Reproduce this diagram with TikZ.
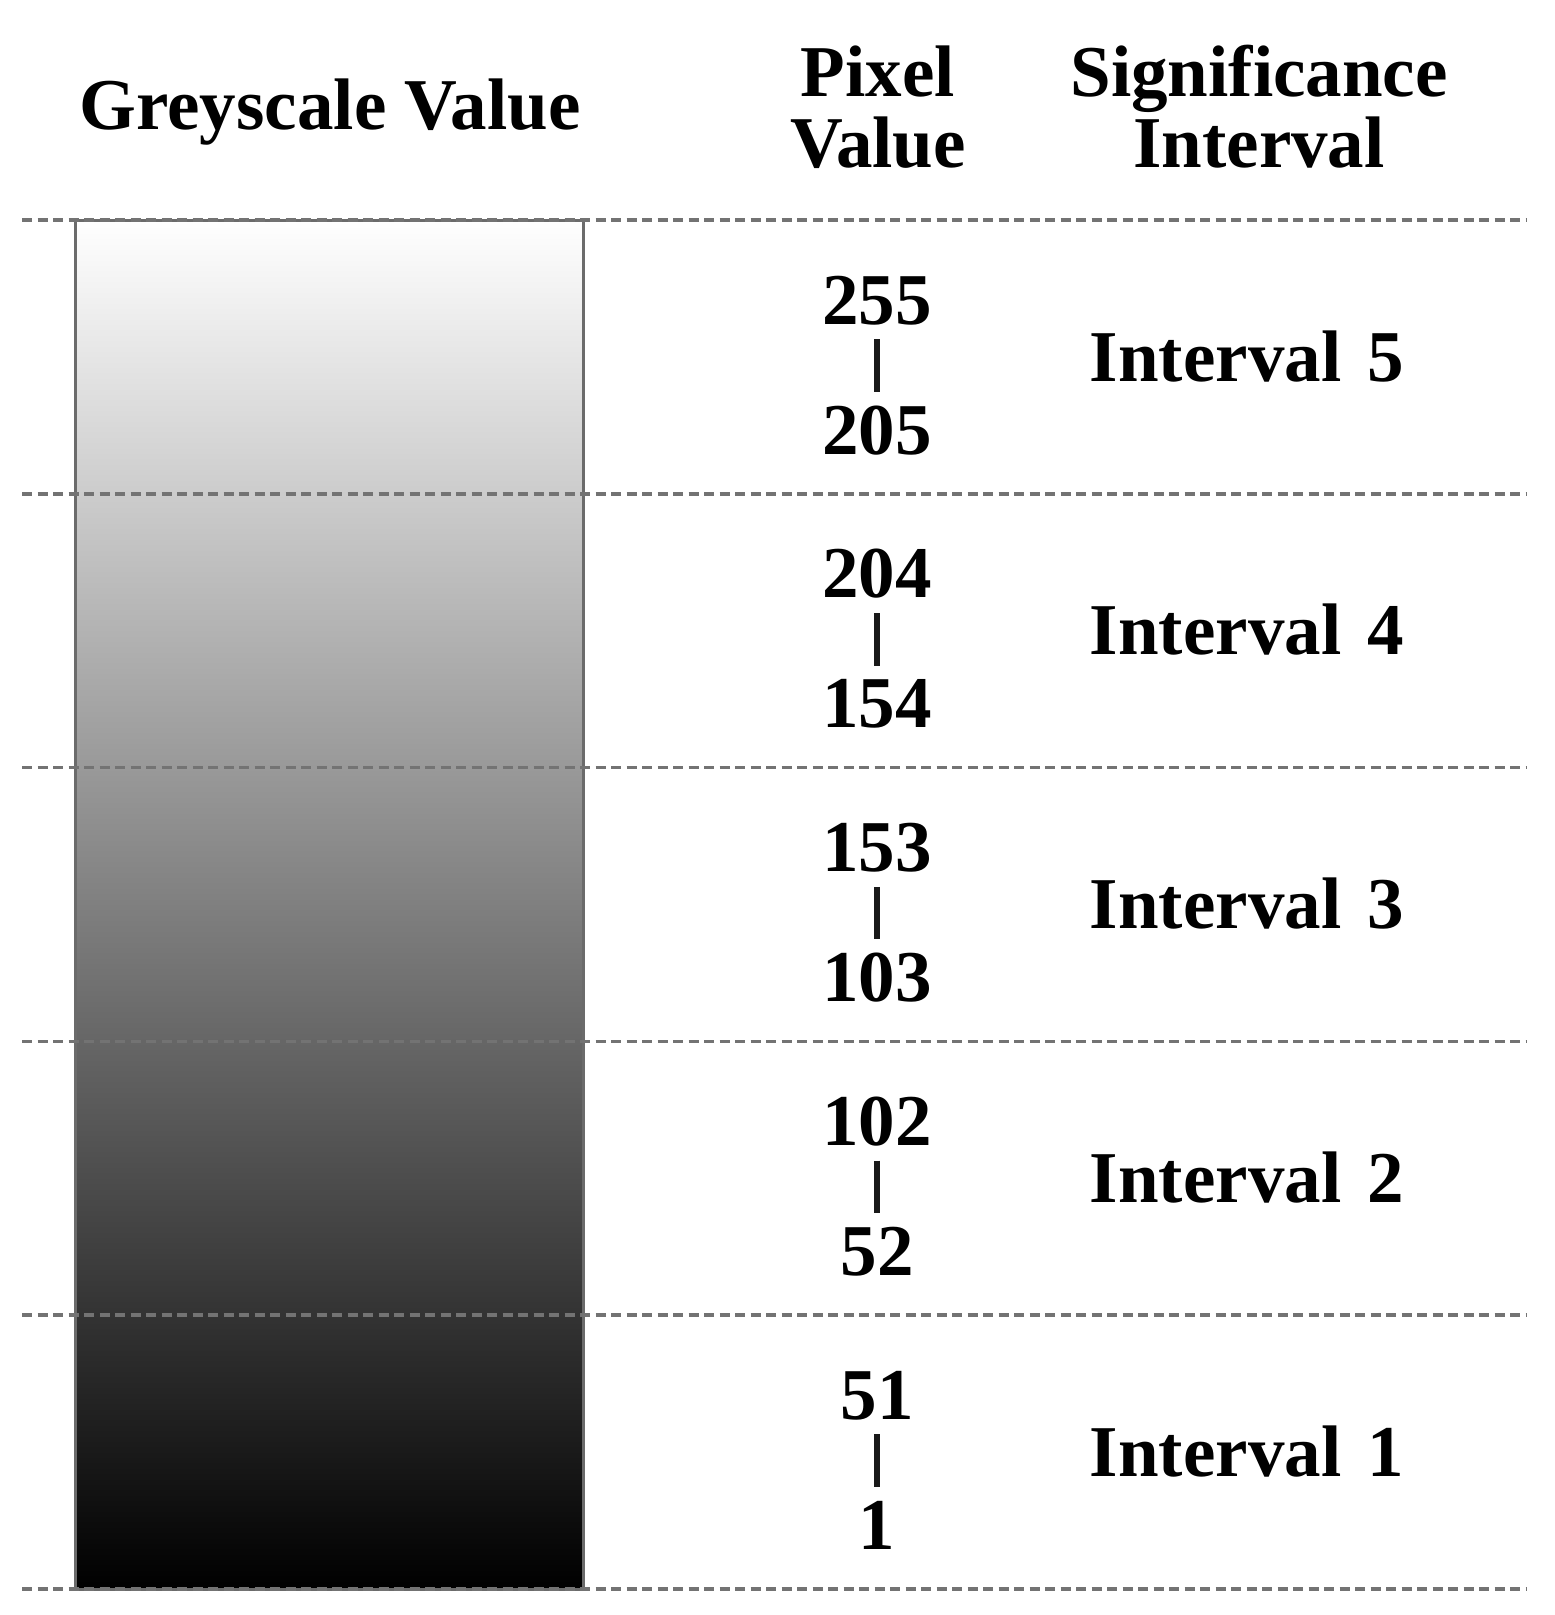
\documentclass[tikz,border=0pt]{standalone}
\usepackage{fontspec}
\setmainfont{Liberation Serif}
\begin{document}
\begin{tikzpicture}[x=1pt,y=-1pt,
  lbl/.style={font=\fontsize{73}{80}\selectfont\bfseries, inner sep=0pt, anchor=base},
  numlbl/.style={lbl, text height=49pt, text depth=0pt},
  sepline/.style={draw=black!55, line width=3.5pt, dash pattern=on 10pt off 5.5pt},
  bar/.style={draw=black!90, line width=5.5pt, shorten <=15pt, shorten >=13pt},
  gbox/.style={draw=black!58, line width=3pt}
]
\useasboundingbox (0,0) rectangle (1555,1615);
% gradient bar
\shade[top color=white, bottom color=black] (75,220) rectangle (583,1589);
\draw[gbox] (75,220) rectangle (583,1589);
% headers
\node[lbl] (hgrey) at (330,129) {Greyscale Value};
\node[lbl] (hpix1) at (878,96) {Pixel};
\node[lbl] (hpix2) at (878,167) {Value};
\node[lbl] (hsig1) at (1259,96) {Significance};
\node[lbl] (hsig2) at (1259,167) {Interval};
% separator lines
\foreach \yy in {220,493.8,767.6,1041.4,1315.2,1589}{
  \draw[sepline] (22,\yy) -- (1527,\yy);
}
% bands
\foreach \k/\hi/\lo [count=\i from 0] in {5/255/205,4/204/154,3/153/103,2/102/52,1/51/1}{
  \pgfmathsetmacro{\ly}{220+273.8*\i}
  \node[numlbl] (top\k) at (877,\ly+104) {\hi};
  \node[numlbl] (bot\k) at (877,\ly+234) {\lo};
  \draw[bar] (top\k) -- (bot\k);
  \node[lbl] (int\k) at (1247,\ly+161) {Interval\hspace{0.36em}\k};
}
\end{tikzpicture}
\end{document}
